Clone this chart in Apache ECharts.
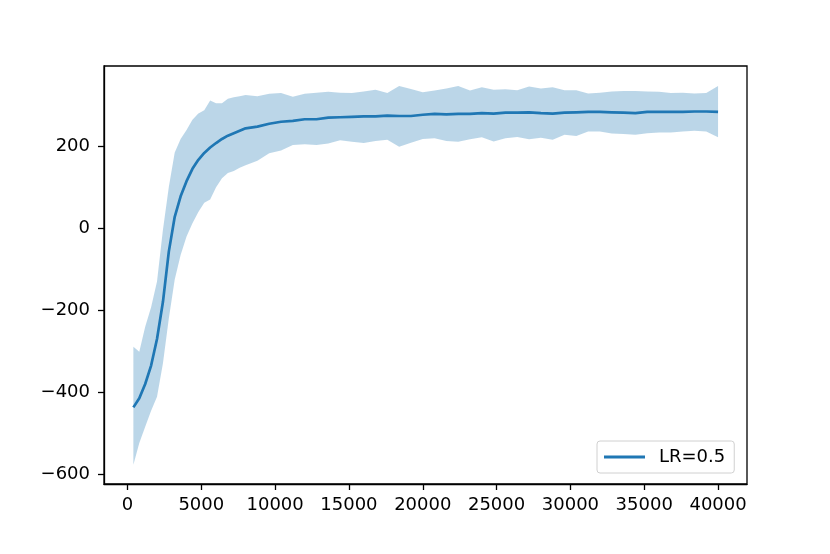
<!DOCTYPE html>
<html>
<head>
<meta charset="utf-8">
<script src="https://cdn.jsdelivr.net/npm/echarts@6/dist/echarts.min.js"></script>
<style>
  html, body { margin: 0; padding: 0; background: #fff; }
  #chart { width: 830px; height: 554px; }
</style>
</head>
<body>
<div id="chart"></div>
<script>
// 训练步数
const steps = [
  400, 800, 1200, 1600, 2000, 2400, 2800, 3200, 3600, 4000,
  4400, 4800, 5200, 5600, 6000, 6400, 6800, 7200, 7600, 8000,
  8800, 9600, 10400, 11200, 12000, 12800, 13600, 14400, 15200, 16000,
  16800, 17600, 18400, 19200, 20000, 20800, 21600, 22400, 23200, 24000,
  24800, 25600, 26400, 27200, 28000, 28800, 29600, 30400, 31200, 32000,
  32800, 33600, 34400, 35200, 36000, 36800, 37600, 38400, 39200, 40000
]
// 平均回报
const meanReward = [
  -437, -415, -380, -335, -270, -180, -57, 28, 78, 115,
  145, 167, 184, 197, 208, 218, 226, 232, 238, 244,
  248, 255, 260, 262, 266, 266, 270, 271, 272, 273,
  273, 275, 274, 274, 277, 279, 278, 279, 279, 281,
  280, 282, 282, 283, 281, 280, 282, 283, 284, 284,
  283, 282, 281, 284, 284, 284, 284, 285, 285, 284
]
// 阴影下界
const lowerBand = [
  -577, -524, -484, -445, -411, -330, -220, -125, -65, -20,
  12, 40, 62, 70, 100, 122, 135, 140, 148, 154,
  165, 183, 190, 203, 205, 203, 207, 215, 211, 208,
  213, 216, 199, 209, 218, 220, 213, 211, 217, 222,
  212, 220, 223, 217, 221, 216, 228, 225, 236, 236,
  231, 230, 228, 232, 234, 234, 236, 238, 236, 222
]
// 阴影上界
const upperBand = [
  -289, -301, -240, -193, -130, -4, 101, 185, 218, 240,
  265, 280, 288, 312, 305, 305, 316, 320, 322, 325,
  322, 328, 330, 321, 328, 331, 333, 331, 330, 334,
  338, 330, 347, 340, 332, 336, 341, 347, 336, 344,
  338, 339, 337, 346, 341, 344, 337, 337, 329, 331,
  334, 335, 335, 334, 333, 330, 331, 329, 330, 347
]
const xTicks = [0, 5000, 10000, 15000, 20000, 25000, 30000, 35000, 40000]
const yTicks = [-600, -400, -200, 0, 200]
const seriesName = 'LR=0.5'

const chart = echarts.init(document.getElementById('chart'))

const bandData = steps.map((s, i) => [s, lowerBand[i], upperBand[i]])
const lineData = steps.map((s, i) => [s, meanReward[i]])

const option = {
  animation: false,
  textStyle: { fontFamily: 'DejaVu Sans' },
  grid: {
    left: 104, right: 83, top: 66, bottom: 70,
    show: true, borderColor: '#000', borderWidth: 1.3, backgroundColor: 'transparent'
  },
  legend: {
    data: [seriesName],
    left: 597, top: 441,
    padding: [7, 9, 7, 7],
    icon: 'rect',
    itemWidth: 41, itemHeight: 3,
    borderColor: '#d0d0d0', borderWidth: 1, borderRadius: 3,
    backgroundColor: '#fff',
    textStyle: { fontSize: 18, color: '#000', padding: [0, 0, 0, 9], lineHeight: 18 }
  },
  xAxis: {
    type: 'value',
    min: -1590, max: 41960,
    splitLine: { show: false },
    axisLine: { show: true, onZero: false, lineStyle: { color: '#000', width: 1.3 } },
    axisTick: { show: true, length: 6, lineStyle: { color: '#000', width: 1.3 }, customValues: xTicks },
    axisLabel: { fontSize: 18, color: '#000', margin: 12, customValues: xTicks, formatter: v => String(v) }
  },
  yAxis: {
    type: 'value',
    min: -624, max: 396,
    splitLine: { show: false },
    axisLine: { show: true, onZero: false, lineStyle: { color: '#000', width: 1.3 } },
    axisTick: { show: true, length: 6, lineStyle: { color: '#000', width: 1.3 }, customValues: yTicks },
    axisLabel: {
      fontSize: 18, color: '#000', margin: 14, customValues: yTicks,
      formatter: v => (v < 0 ? '\u2212' + (-v) : String(v))
    }
  },
  series: [
    {
      // 上下界之间的阴影
      type: 'custom',
      name: 'band',
      data: bandData,
      encode: { x: 0, y: [1, 2] },
      silent: true,
      z: 1,
      renderItem: (params, api) => {
        if (params.dataIndex !== 0) return null
        const top = bandData.map(d => api.coord([d[0], d[2]]))
        const bottom = bandData.slice().reverse().map(d => api.coord([d[0], d[1]]))
        return {
          type: 'polygon',
          shape: { points: top.concat(bottom) },
          style: { fill: 'rgba(31,119,180,0.3)', stroke: null }
        }
      }
    },
    {
      type: 'line',
      name: seriesName,
      data: lineData,
      showSymbol: false,
      z: 3,
      color: '#1f77b4',
      lineStyle: { color: '#1f77b4', width: 2.7 }
    }
  ]
}
chart.setOption(option)
</script>
</body>
</html>
